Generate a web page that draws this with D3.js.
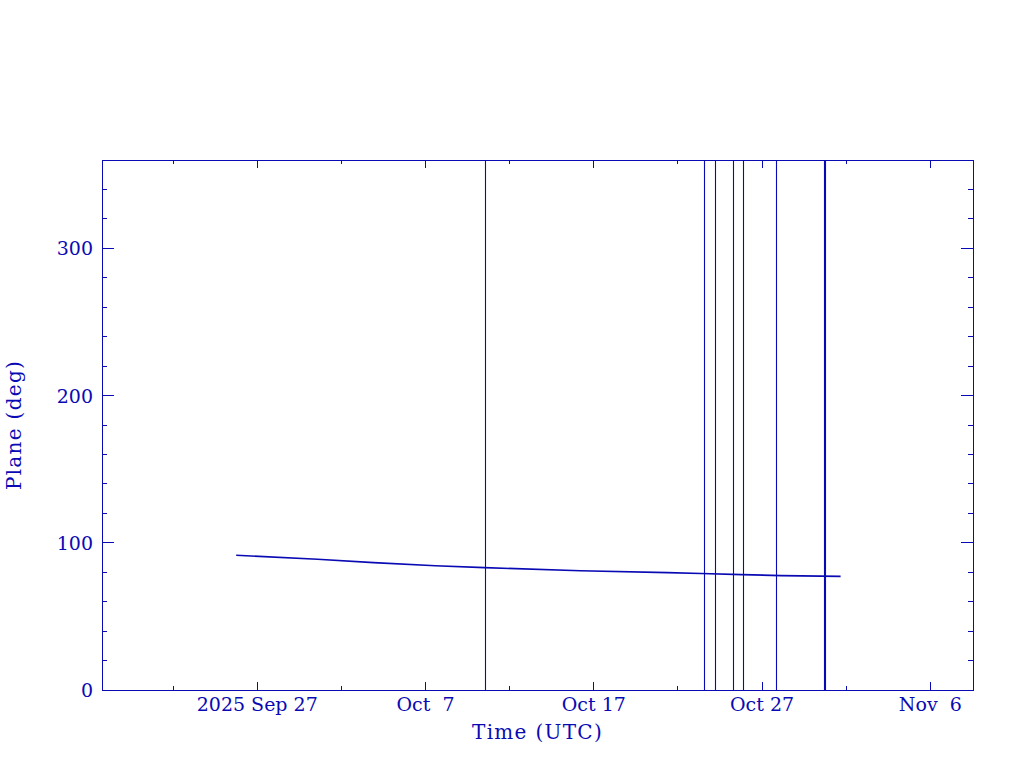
<!DOCTYPE html>
<html><head><meta charset="utf-8">
<script src="https://cdn.jsdelivr.net/npm/d3@7"></script>
<style>body{margin:0;background:#fff}svg{display:block}text{white-space:pre}</style>
</head><body>
<script>
// ---- data ----
const lineDates = ["2025-09-25T18:00","2025-09-30T14:00","2025-10-03T22:00","2025-10-07T14:00","2025-10-10T12:00","2025-10-16T05:00","2025-10-21T09:00","2025-10-23T09:00","2025-10-25T19:00","2025-10-28T03:00","2025-10-31T16:00"];
const lineValues = [91.5, 88.8, 86.5, 84.4, 83.1, 81.0, 79.7, 79.1, 78.4, 77.7, 77.2];
const eventDates = ["2025-10-10T12:15","2025-10-23T13:10","2025-10-24T04:50","2025-10-25T06:30","2025-10-25T20:50","2025-10-27T19:55","2025-10-30T17:00","2025-10-30T17:50"];
const xTickDates = ["2025-09-27","2025-10-07","2025-10-17","2025-10-27","2025-11-06"];
const xTickLabels = ["2025 Sep 27","Oct  7","Oct 17","Oct 27","Nov  6"];
const yTicks = [0,100,200,300];
const xDomain = ["2025-09-17T18:35","2025-11-08T12:50"];
const yDomain = [0,360];

const W=1024,H=768, L=102, R=973, T=160, B=690;
const C="#0a0ab4";
const parse = s => new Date(s+"Z");
const svg = d3.select("body").append("svg").attr("width",W).attr("height",H);
const x = d3.scaleUtc().domain(xDomain.map(parse)).range([L,R]);
const y = d3.scaleLinear().domain(yDomain).range([B,T]);

// ticks
const xMinor = d3.utcDay.range(parse("2025-09-17T00:00"), parse("2025-11-09T00:00"))
  .filter(d=>x(d)>=L&&x(d)<=R && d3.utcDay.count(parse("2025-09-27T00:00"),d)%5===0);
const g = svg.append("g").attr("stroke",C).attr("fill","none").attr("shape-rendering","crispEdges");
const majX = xTickDates.map(parse);
xMinor.forEach(d=>{
  const isMaj = majX.some(m=>+m===+d);
  const len = isMaj?8:4;
  g.append("line").attr("x1",x(d)).attr("x2",x(d)).attr("y1",B).attr("y2",B-len);
  g.append("line").attr("x1",x(d)).attr("x2",x(d)).attr("y1",T).attr("y2",T+len);
});
d3.range(0,361,20).forEach(v=>{
  const isMaj = v%100===0;
  const len = isMaj?12:5;
  g.append("line").attr("x1",L).attr("x2",L+len).attr("y1",y(v)).attr("y2",y(v));
  g.append("line").attr("x1",R).attr("x2",R-len).attr("y1",y(v)).attr("y2",y(v));
});
g.append("rect").attr("x",L).attr("y",T).attr("width",R-L).attr("height",B-T);

// event lines
svg.append("g").selectAll("line").data(eventDates).join("line")
  .attr("x1",d=>Math.round(x(parse(d)))+0.5).attr("x2",d=>Math.round(x(parse(d)))+0.5)
  .attr("y1",T).attr("y2",B).attr("stroke",C).attr("stroke-width",1.1);

// data line
const pts = lineDates.map((d,i)=>[parse(d),lineValues[i]]);
svg.append("path").datum(pts)
  .attr("d",d3.line().x(d=>x(d[0])).y(d=>y(d[1])))
  .attr("fill","none").attr("stroke",C).attr("stroke-width",1.6);

// labels
const font = "'DejaVu Serif', serif";
svg.append("g").selectAll("text").data(xTickDates).join("text")
  .attr("x",d=>x(parse(d))).attr("y",711).attr("text-anchor","middle")
  .attr("font-family",font).attr("font-size",19).attr("fill",C)
  .text((d,i)=>xTickLabels[i]);
svg.append("g").selectAll("text").data(yTicks).join("text")
  .attr("x",93).attr("y",d=>y(d)+7).attr("text-anchor","end")
  .attr("font-family",font).attr("font-size",19).attr("fill",C)
  .text(d=>d);
svg.append("text").attr("x",(L+R)/2).attr("y",739).attr("text-anchor","middle")
  .attr("font-family",font).attr("font-size",20).attr("letter-spacing",1.3).attr("fill",C).text("Time (UTC)");
svg.append("text").attr("transform",`translate(21,${(T+B)/2}) rotate(-90)`).attr("text-anchor","middle")
  .attr("font-family",font).attr("font-size",20).attr("letter-spacing",1.3).attr("fill",C).text("Plane (deg)");
</script>
</body></html>
